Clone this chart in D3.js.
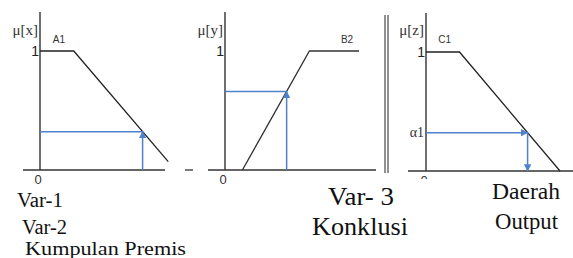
<!DOCTYPE html>
<html>
<head>
<meta charset="utf-8">
<script src="https://cdn.jsdelivr.net/npm/d3@7"></script>
<style>
  body { margin: 0; background: #fff; }
  svg { display: block; }
</style>
</head>
<body>
<div id="target"></div>
<script>
// membership functions, [value, mu]
let a1Pts = [[0, 1], [25, 1], [95, 0.07]];
let b2Pts = [[13, 0], [63, 1], [100, 1]];
let c1Pts = [[0, 1], [25, 1], [100, 0]];
let setNames = ["A1", "B2", "C1"];
let muLabels = ["\u03bc[x]", "\u03bc[y]", "\u03bc[z]"];
// crisp inputs for Var-1 and Var-2
let inputs = [76, 46];
let alphaLabel = "\u03b11";

let width = 573,
  height = 258;

let svg = d3.select("#target").append("svg")
  .attr("width", width)
  .attr("height", height);

let blue = "#4f82cc";

let defs = svg.append("defs");
defs.append("marker")
  .attr("id", "arr")
  .attr("viewBox", "0 0 10 10")
  .attr("refX", 9).attr("refY", 5)
  .attr("markerWidth", 5).attr("markerHeight", 5)
  .attr("orient", "auto")
  .append("path")
  .attr("d", "M0,0L10,5L0,10z")
  .attr("fill", blue);

let panels = [
  { pts: a1Pts, range: [40, 175], y: [170, 51], axis: [23, 165], top: 12 },
  { pts: b2Pts, range: [225, 359], y: [170, 51], axis: [208, 376], top: 12 },
  { pts: c1Pts, range: [426, 560], y: [171, 52], axis: [408, 573], top: 13 }
];

function muAt(pts, v) {
  for (let i = 0; i < pts.length - 1; i++) {
    let a = pts[i], b = pts[i + 1];
    if (v >= a[0] && v <= b[0]) return a[1] + (b[1] - a[1]) * (v - a[0]) / (b[0] - a[0]);
  }
  return 0;
}

let mu1 = muAt(a1Pts, inputs[0]);
let mu2 = muAt(b2Pts, inputs[1]);
let alpha = Math.min(mu1, mu2);
// value on C1 where it falls to alpha
let zOut = c1Pts[1][0] + (c1Pts[2][0] - c1Pts[1][0]) * (1 - alpha);

panels.forEach((p, i) => {
  let x = d3.scaleLinear().domain([0, 100]).range(p.range);
  let y = d3.scaleLinear().domain([0, 1]).range(p.y);
  let g = svg.append("g");

  // axes lines
  g.append("line")
    .attr("x1", x(0)).attr("x2", x(0))
    .attr("y1", p.top).attr("y2", y(0))
    .attr("stroke", "#222").attr("stroke-width", 1.3);
  g.append("line")
    .attr("x1", p.axis[0]).attr("x2", p.axis[1])
    .attr("y1", y(0)).attr("y2", y(0))
    .attr("stroke", "#333").attr("stroke-width", 1.3);

  // tick labels
  g.append("g")
    .attr("transform", "translate(" + x(0) + ",0)")
    .call(d3.axisLeft(y).tickValues([1]).tickFormat(d3.format("d")).tickSize(0).tickPadding(1))
    .call(s => s.select(".domain").remove())
    .selectAll("text")
    .attr("font-family", "Liberation Sans, Arial, sans-serif")
    .attr("font-size", 14)
    .attr("fill", "#222")
    .attr("dy", "0.3em");

  g.append("g")
    .attr("transform", "translate(0," + y(0) + ")")
    .call(d3.axisBottom(x).tickValues([0]).tickFormat(d3.format("d")).tickSize(0).tickPadding(5))
    .call(s => s.select(".domain").remove())
    .selectAll("text")
    .attr("font-family", "Liberation Sans, Arial, sans-serif")
    .attr("font-size", 13)
    .attr("fill", "#333")
    .attr("dx", -2.5);

  g.append("text")
    .attr("x", x(0) - 2)
    .attr("y", 35)
    .attr("text-anchor", "end")
    .attr("font-family", "Liberation Serif, serif")
    .attr("font-size", 15)
    .attr("fill", "#333")
    .text(muLabels[i]);

  // membership line
  g.append("path")
    .datum(p.pts)
    .attr("d", d3.line().x(d => x(d[0])).y(d => y(d[1])))
    .attr("fill", "none")
    .attr("stroke", i == 1 ? "#333" : "#222")
    .attr("stroke-width", 1.3);

  let namePos = i == 1 ? x(p.pts[2][0]) - 12 : x(p.pts[1][0] / 2) + 2;
  g.append("text")
    .attr("x", namePos)
    .attr("y", 43)
    .attr("text-anchor", "middle")
    .attr("font-family", "Liberation Sans, Arial, sans-serif")
    .attr("font-size", 10)
    .attr("fill", "#333")
    .text(setNames[i]);

  if (i < 2) {
    let m = i == 0 ? mu1 : mu2;
    g.append("line")
      .attr("x1", x(0)).attr("x2", x(inputs[i]))
      .attr("y1", y(m)).attr("y2", y(m))
      .attr("stroke", blue).attr("stroke-width", 1.5);
    g.append("line")
      .attr("x1", x(inputs[i])).attr("x2", x(inputs[i]))
      .attr("y1", y(0)).attr("y2", y(m))
      .attr("stroke", blue).attr("stroke-width", 1.5)
      .attr("marker-end", "url(#arr)");
  } else {
    g.append("line")
      .attr("x1", x(0)).attr("x2", x(zOut))
      .attr("y1", y(alpha)).attr("y2", y(alpha))
      .attr("stroke", blue).attr("stroke-width", 1.5)
      .attr("marker-end", "url(#arr)");
    g.append("line")
      .attr("x1", x(zOut)).attr("x2", x(zOut))
      .attr("y1", y(alpha)).attr("y2", y(0))
      .attr("stroke", blue).attr("stroke-width", 1.5)
      .attr("marker-end", "url(#arr)");
    g.append("text")
      .attr("x", x(0) - 2)
      .attr("y", y(alpha) + 4)
      .attr("text-anchor", "end")
      .attr("font-family", "Liberation Serif, serif")
      .attr("font-size", 14)
      .attr("fill", "#333")
      .text(alphaLabel);
  }
});

// small dash after the first panel
svg.append("line")
  .attr("x1", 185).attr("x2", 193)
  .attr("y1", 170).attr("y2", 170)
  .attr("stroke", "#333").attr("stroke-width", 1.3);

// double separator
[385, 388].forEach(xx => {
  svg.append("line")
    .attr("x1", xx).attr("x2", xx)
    .attr("y1", 15).attr("y2", 173)
    .attr("stroke", "#222").attr("stroke-width", 1);
});

// white cover at the bottom of the third image (cuts the "0")
svg.append("rect")
  .attr("x", 395).attr("y", 179).attr("width", 40).attr("height", 10)
  .attr("fill", "#fff");

// captions
let captions = [
  { t: "Var-1", x: 17, y: 207, s: 20, w: 46 },
  { t: "Var-2", x: 22, y: 234, s: 20, w: 45 },
  { t: "Kumpulan Premis", x: 25, y: 255, s: 18, w: 161 },
  { t: "Var- 3", x: 328, y: 205, s: 25, w: 66 },
  { t: "Konklusi", x: 312, y: 235, s: 25, w: 96 },
  { t: "Daerah", x: 492, y: 199, s: 24, w: 68 },
  { t: "Output", x: 495, y: 229, s: 24, w: 63 }
];
svg.selectAll(".cap")
  .data(captions)
  .enter().append("text")
  .attr("class", "cap")
  .attr("x", d => d.x)
  .attr("y", d => d.y)
  .attr("font-family", "Liberation Serif, 'Times New Roman', serif")
  .attr("font-size", d => d.s)
  .attr("textLength", d => d.w)
  .attr("lengthAdjust", "spacingAndGlyphs")
  .attr("fill", "#111")
  .text(d => d.t);
</script>
</body>
</html>
